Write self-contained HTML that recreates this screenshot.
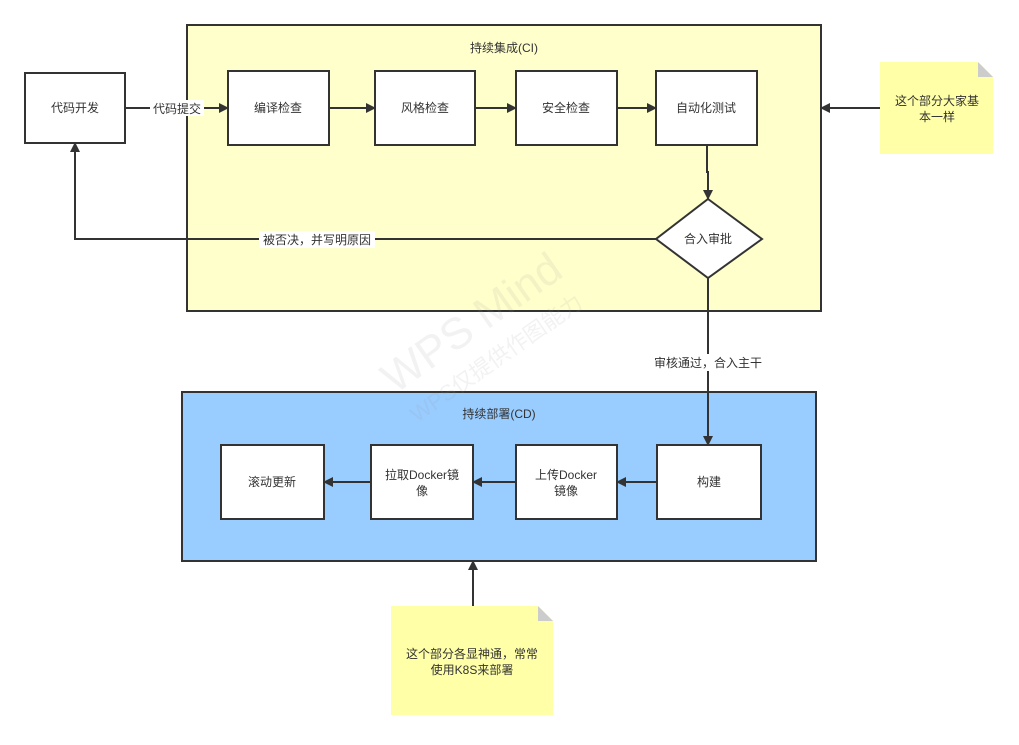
<!DOCTYPE html>
<html><head><meta charset="utf-8"><style>
body{margin:0;background:#fff}
svg text{font-family:"Liberation Sans","Noto Sans CJK SC",sans-serif;font-size:12px;fill:#333}
</style></head><body>
<svg width="1019" height="740" viewBox="0 0 1019 740" xmlns="http://www.w3.org/2000/svg">
<defs><marker id="a" markerWidth="10" markerHeight="10" refX="9" refY="5" orient="auto" markerUnits="userSpaceOnUse"><path d="M0,0 L10,5 L0,10 Z" fill="#333"/></marker></defs>
<rect x="187" y="25" width="634" height="286" fill="#ffffcc" stroke="#333" stroke-width="2"/>
<text x="504" y="52" text-anchor="middle">持续集成(CI)</text>
<rect x="182" y="392" width="634" height="169" fill="#99ccff" stroke="#333" stroke-width="2"/>
<text x="499" y="418" text-anchor="middle">持续部署(CD)</text>
<g fill="#fff" stroke="#333" stroke-width="2">
<rect x="25" y="73" width="100" height="70"/>
<rect x="228" y="71" width="101" height="74"/>
<rect x="375" y="71" width="100" height="74"/>
<rect x="516" y="71" width="101" height="74"/>
<rect x="656" y="71" width="101" height="74"/>
<path d="M708,199 L762,239 L708,278 L656,239 Z"/>
<rect x="657" y="445" width="104" height="74"/>
<rect x="516" y="445" width="101" height="74"/>
<rect x="371" y="445" width="102" height="74"/>
<rect x="221" y="445" width="103" height="74"/>
</g>
<path d="M880,62 L978,62 L993,77 L993,154 L880,154 Z" fill="#ffff99" opacity="0.85"/>
<path d="M978,62 L993,77 L978,77 Z" fill="#ccc"/>
<path d="M391,606 L538,606 L553,621 L553,715 L391,715 Z" fill="#ffff99" opacity="0.85"/>
<path d="M538,606 L553,621 L538,621 Z" fill="#ccc"/>
<g stroke="#333" stroke-width="2" fill="none">
<path d="M125,108 L228,108" marker-end="url(#a)"/>
<path d="M329,108 L375,108" marker-end="url(#a)"/>
<path d="M475,108 L516,108" marker-end="url(#a)"/>
<path d="M617,108 L656,108" marker-end="url(#a)"/>
<path d="M707,145 L707,172 L708,172 L708,199" marker-end="url(#a)"/>
<path d="M656,239 L75,239 L75,143" marker-end="url(#a)"/>
<path d="M708,278 L708,445" marker-end="url(#a)"/>
<path d="M657,482 L617,482" marker-end="url(#a)"/>
<path d="M516,482 L473,482" marker-end="url(#a)"/>
<path d="M371,482 L324,482" marker-end="url(#a)"/>
<path d="M880,108 L821,108" marker-end="url(#a)"/>
<path d="M473,606 L473,561" marker-end="url(#a)"/>
</g>
<rect x="150" y="100" width="54" height="16" fill="#fff"/>
<text x="177" y="113" text-anchor="middle">代码提交</text>
<rect x="259" y="231" width="116" height="17" fill="#fff"/>
<text x="317" y="244" text-anchor="middle">被否决，并写明原因</text>
<rect x="650" y="354" width="118" height="17" fill="#fff"/>
<text x="708" y="367" text-anchor="middle">审核通过，合入主干</text>
<g text-anchor="middle">
<text x="75" y="112">代码开发</text>
<text x="278" y="112">编译检查</text>
<text x="425" y="112">风格检查</text>
<text x="566" y="112">安全检查</text>
<text x="706" y="112">自动化测试</text>
<text x="708" y="243">合入审批</text>
<text x="709" y="486">构建</text>
<text x="566" y="479">上传Docker</text>
<text x="566" y="495">镜像</text>
<text x="422" y="479">拉取Docker镜</text>
<text x="422" y="495">像</text>
<text x="272" y="486">滚动更新</text>
<text x="937" y="105">这个部分大家基</text>
<text x="937" y="121">本一样</text>
<text x="472" y="658">这个部分各显神通，常常</text>
<text x="472" y="674">使用K8S来部署</text>
</g>
<g transform="translate(480,335) rotate(-35)" opacity="0.12">
<text x="0" y="0" text-anchor="middle" style="font-size:44px;fill:#999">WPS Mind</text>
<text x="0" y="36" text-anchor="middle" style="font-size:22px;fill:#999">WPS仅提供作图能力</text>
</g>
</svg>
</body></html>
